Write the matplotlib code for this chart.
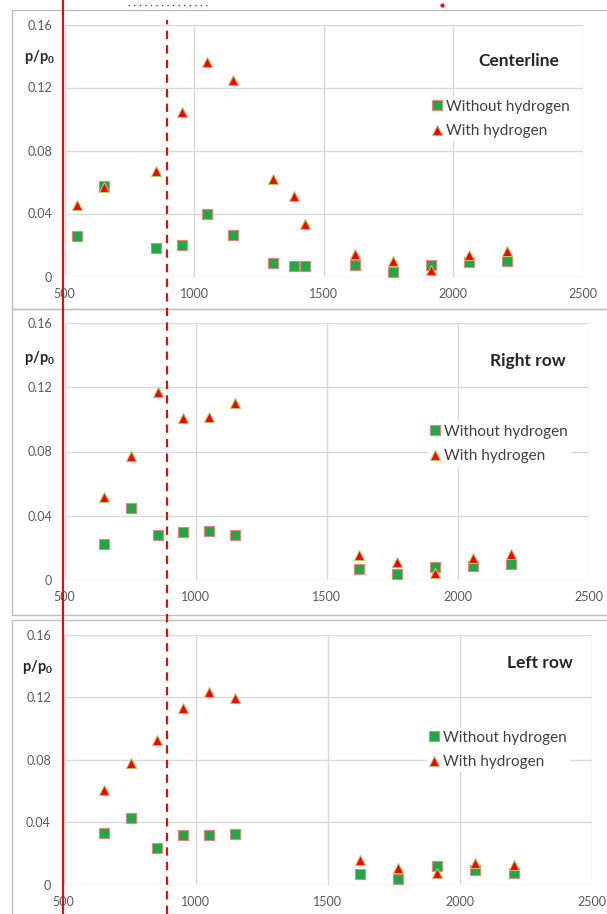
import matplotlib
matplotlib.use('Agg')
import matplotlib.pyplot as plt
from matplotlib.lines import Line2D
from matplotlib.patches import Rectangle
from matplotlib.transforms import blended_transform_factory

plt.rcParams['font.family'] = ['Lato', 'DejaVu Sans']
plt.rcParams['mathtext.fontset'] = 'custom'
plt.rcParams['mathtext.rm'] = 'Lato'
plt.rcParams['mathtext.bf'] = 'Lato:bold'

# ---- data ----
x_center = [550, 652, 855, 952, 1051, 1151, 1306, 1387, 1427, 1623, 1769, 1915, 2061, 2207]
without_center = [0.0256, 0.0572, 0.0184, 0.0201, 0.0394, 0.0263, 0.0083, 0.0064, 0.0066,
                  0.0074, 0.0028, 0.0074, 0.0093, 0.0097]
with_center = [0.0451, 0.0568, 0.0670, 0.1045, 0.1363, 0.1250, 0.0621, 0.0511, 0.0331,
               0.0144, 0.0097, 0.0042, 0.0138, 0.0165]

x_row = [652, 754, 855, 953, 1051, 1150, 1623, 1768, 1915, 2059, 2206]
without_right = [0.0226, 0.0447, 0.0283, 0.0301, 0.0305, 0.0278, 0.0069, 0.0037, 0.0079, 0.0089, 0.0098]
with_right = [0.0519, 0.0773, 0.1170, 0.1008, 0.1014, 0.1099, 0.0154, 0.0110, 0.0042, 0.0139, 0.0160]
without_left = [0.0331, 0.0425, 0.0236, 0.0317, 0.0319, 0.0327, 0.0070, 0.0038, 0.0119, 0.0096, 0.0076]
with_left = [0.0606, 0.0778, 0.0929, 0.1133, 0.1232, 0.1194, 0.0157, 0.0110, 0.0076, 0.0140, 0.0127]

panel_titles = ['Centerline', 'Right row', 'Left row']
xticks = [500, 1000, 1500, 2000, 2500]
yticks = [0, 0.04, 0.08, 0.12, 0.16]
ytick_labels = ['0', '0.04', '0.08', '0.12', '0.16']

solid_x = 495      # red solid marker line
dashed_x = 894     # red dashed marker line

W, H = 607, 914
fig = plt.figure(figsize=(W / 100, H / 100), dpi=100)

# plot area in pixels: (left, right, top, bottom)
areas = [(64.5, 582.5, 24.5, 276.5),
         (64.5, 588.5, 323, 580),
         (63.5, 591.5, 634.5, 885)]
title_pos = [(0.955, 0.855), (0.957, 0.852), (0.965, 0.886)]
legend_pos = [(0.705, 0.625), (0.694, 0.529), (0.688, 0.539)]
ylab_pos = [0.871, 0.865, 0.871]
boxes = [(10, 309), (309, 615), (620, 925)]

# panel frames
for top, bot in boxes:
    fig.add_artist(Rectangle((11.7 / W, 1 - bot / H), 1.2, (bot - top) / H,
                             transform=fig.transFigure, fill=False,
                             edgecolor='#bfbfbf', lw=1.0, clip_on=False))

series = [(x_center, without_center, with_center),
          (x_row, without_right, with_right),
          (x_row, without_left, with_left)]

axes = []
for i, (l, r, t, b) in enumerate(areas):
    ax = fig.add_axes([l / W, 1 - b / H, (r - l) / W, (b - t) / H])
    axes.append(ax)
    xs, wo, wi = series[i]
    ax.plot(xs, wo, 's', ms=6.8, mfc='#1fa846', mec='#e8837a', mew=0.8,
            label='Without hydrogen', clip_on=False, zorder=3)
    ax.plot(xs, wi, '^', ms=7.2, mfc='#ff0000', mec='#b9c76b', mew=0.8,
            label='With hydrogen', clip_on=False, zorder=4)
    ax.set_xlim(500, 2500)
    ax.set_ylim(0, 0.16)
    ax.set_xticks(xticks)
    ax.set_yticks(yticks)
    ax.set_yticklabels(ytick_labels)
    ax.grid(True, color='#d9d9d9', lw=1.0)
    ax.set_axisbelow(True)
    for s in ax.spines.values():
        s.set_visible(False)
    ax.tick_params(length=0, labelsize=9, colors='#595959')
    ax.tick_params(axis='x', pad=8)
    ax.tick_params(axis='y', pad=9)
    ax.text(title_pos[i][0], title_pos[i][1], panel_titles[i], transform=ax.transAxes,
            ha='right', va='center', fontsize=12.5, fontweight='bold', color='#262626')
    ax.text(-0.078, ylab_pos[i], r'$\mathbf{p/p_0}$', transform=ax.transAxes,
            ha='left', va='center', fontsize=10.5, color='#262626')
    leg = ax.legend(loc='center left', bbox_to_anchor=legend_pos[i], frameon=True,
                    fontsize=11, handlelength=0.55, handletextpad=0.3,
                    labelspacing=0.7, borderpad=0.2, borderaxespad=0)
    leg.get_frame().set_edgecolor('none')
    leg.get_frame().set_facecolor('white')
    leg.get_frame().set_alpha(1)
    for txt in leg.get_texts():
        txt.set_color('#404040')

# red marker lines running through all panels
tr = blended_transform_factory(axes[0].transData, fig.transFigure)
fig.add_artist(Line2D([solid_x, solid_x], [0, 1], transform=tr, color='#ff0000', lw=1.5))
fig.add_artist(Line2D([dashed_x, dashed_x], [0, 1 - 20 / H], transform=tr, color='#ff0000',
                      lw=1.5, ls=(0, (4, 3))))
fig.add_artist(Line2D([745, 1050], [1 - 4.7 / H, 1 - 4.7 / H], transform=tr, color='#ff0000',
                      lw=1.0, ls=(0, (1, 3))))
fig.add_artist(Line2D([1957], [1 - 5 / H], transform=tr, color='#ff0000', marker='o',
                      ms=2, lw=0))

fig.savefig('out.png', dpi=100)
